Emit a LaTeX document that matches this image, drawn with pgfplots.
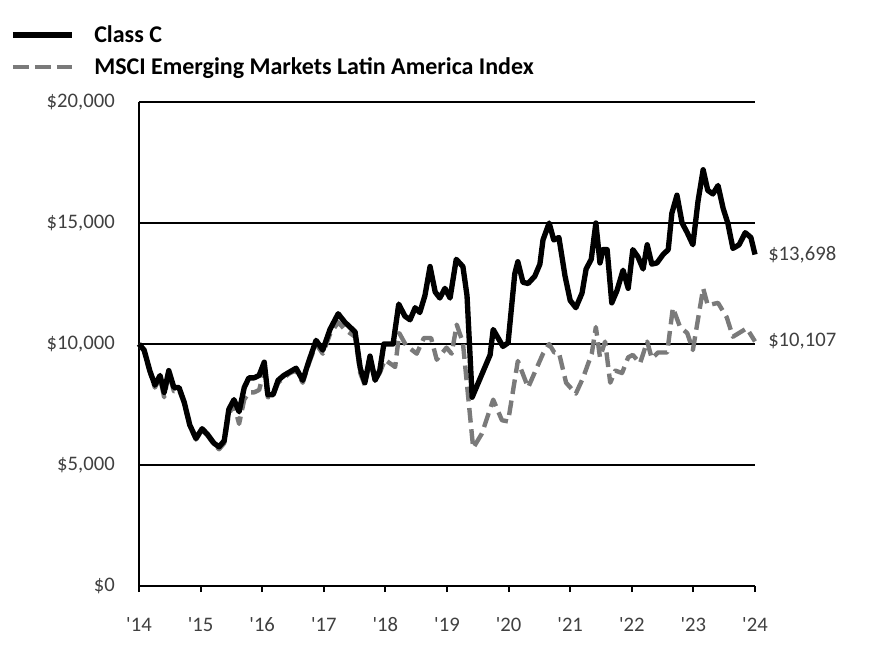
\documentclass[border=0pt]{standalone}
\usepackage{pgfplots}
\pgfplotsset{compat=1.18}
\usepackage{fontspec}
\setmainfont{Carlito}
\definecolor{idxgray}{RGB}{122,122,122}
\definecolor{txtgray}{RGB}{64,64,64}
\begin{document}
\begin{tikzpicture}
\useasboundingbox (-104.25pt,-64.5pt) rectangle (552.75pt,439.5pt);
\begin{axis}[
  scale only axis, width=462pt, height=363pt,
  xmin=0, xmax=120, ymin=0, ymax=20000,
  clip=false,
  scaled y ticks=false,
  axis x line*=bottom, axis y line*=left,
  axis line style={black, line width=1.8pt, -},
  ymajorgrids, grid style={black, line width=1.5pt},
  xtick={0,12,...,120},
  xticklabels={\textquotesingle14,\textquotesingle15,\textquotesingle16,\textquotesingle17,\textquotesingle18,\textquotesingle19,\textquotesingle20,\textquotesingle21,\textquotesingle22,\textquotesingle23,\textquotesingle24},
  ytick={0,5000,10000,15000,20000},
  yticklabels={{\$0},{\$5,000},{\$10,000},{\$15,000},{\$20,000}},
  tick align=outside,
  xtick style={black, line width=1.5pt},
  ytick style={draw=none},
  major tick length=4.5pt,
  ticklabel style={font=\fontsize{15.5}{18}\selectfont, text=txtgray},
  yticklabel style={inner sep=0pt, xshift=-13.5pt},
  xticklabel style={inner sep=0pt, yshift=-19pt},
  legend cell align=left,
  legend style={at={(-0.2094,1.164)}, anchor=north west, draw=none, fill=none,
    inner sep=0pt, row sep=6pt,
    font=\fontsize{18}{21}\selectfont\bfseries,
    nodes={inner sep=2pt}},
  legend image code/.code={\draw[#1] (0pt,0pt) -- (44pt,0pt);},
  /tikz/every even column/.append style={column sep=0pt},
  every axis plot/.append style={line join=round},
]
\addlegendimage{black, line width=4pt}
\addlegendentry{\hspace{13pt}Class C}
\addlegendimage{idxgray, line width=3.4pt, dash pattern=on 12pt off 4.5pt}
\addlegendentry{\hspace{13pt}MSCI Emerging Markets Latin America Index}

\addplot[idxgray, line width=3.3pt, dash pattern=on 11pt off 5pt, forget plot] coordinates {
(0,10000)(1,9700)(2.1,8850)(3.1,8200)(4.1,8600)(4.9,7800)(5.8,8800)(6.8,8050)(7.8,8100)(8.8,7550)
(9.9,6600)(11.1,6050)(12.3,6450)(13.4,6200)(14.6,5850)(15.6,5650)(16.6,5900)(17.5,7100)(18.5,7500)(19.5,6700)
(20.5,7700)(21.4,8000)(22.4,8000)(23.4,8100)(24.4,8900)(25.1,7800)(26.1,7850)(27.1,8400)(28.2,8600)(29.4,8800)
(30.6,8900)(31.9,8400)(33.1,9200)(34.5,10000)(35.8,9600)(37.2,10400)(38.8,10900)(40.1,10600)(42.1,10300)(43.1,8800)
(44.0,8300)(45.0,9300)(46.0,8500)(46.9,8800)(47.9,9350)(49.9,9050)(50.7,10450)(52.0,9950)(54.1,9600)(55.5,10250)
(56.9,10250)(58.0,9350)(59.9,9850)(60.9,9600)(61.9,10800)(63.1,10050)(65.1,5700)(66.8,6300)(69.0,7700)(70.7,6850)
(71.9,6800)(73.8,9300)(75.8,8200)(78.7,9600)(79.9,10000)(80.9,9650)(81.8,9650)(83.2,8400)(85.1,7950)(86.5,8600)
(88.2,9600)(89.0,10700)(89.8,9450)(90.8,10100)(91.8,8400)(92.8,8900)(94.1,8800)(95.3,9450)(96.2,9550)(97.6,9200)
(99.0,10100)(99.9,9400)(101.1,9650)(102.9,9650)(104.0,11500)(105.4,10700)(106.8,10450)(107.9,9750)(109.9,12300)(110.8,11600)
(112.8,11700)(114.5,11100)(115.7,10300)(118.4,10650)(120,10107)
};
\addplot[black, line width=4pt, forget plot] coordinates {
(0,10000)(1,9750)(2.1,8900)(3.1,8300)(4.1,8700)(4.9,8000)(5.8,8900)(6.8,8200)(7.8,8200)(8.8,7600)
(9.9,6650)(11.1,6100)(12.3,6500)(13.4,6250)(14.6,5900)(15.6,5750)(16.6,6000)(17.5,7300)(18.5,7700)(19.5,7200)
(20.5,8200)(21.4,8600)(22.4,8600)(23.4,8700)(24.4,9250)(25.1,7900)(26.1,7900)(27.1,8500)(28.2,8700)(29.4,8850)
(30.6,9000)(31.9,8500)(33.1,9300)(34.5,10150)(35.8,9750)(37.2,10600)(38.8,11250)(40.1,10900)(42.1,10500)(43.1,9000)
(44.0,8400)(45.0,9500)(46.0,8500)(46.9,8900)(47.7,10000)(49.5,10000)(50.6,11650)(51.8,11150)(52.8,11000)(53.8,11500)
(54.7,11300)(55.7,12000)(56.7,13200)(57.7,12150)(58.6,11900)(59.6,12300)(60.6,11900)(61.8,13500)(63.1,13200)(63.9,12000)
(64.9,7800)(68.4,9550)(69.0,10600)(70.9,9900)(71.9,10050)(73.2,12900)(73.8,13400)(74.8,12550)(75.8,12500)(77.1,12800)
(78.1,13300)(78.7,14300)(79.9,15000)(80.8,14300)(81.8,14400)(83.0,12800)(84.0,11800)(85.1,11500)(86.3,12100)(87.1,13100)
(88.1,13500)(89.0,15000)(89.8,13350)(90.4,13900)(91.2,13900)(92.1,11700)(93.1,12200)(94.3,13050)(95.3,12300)(96.2,13900)
(97.2,13600)(98.2,13100)(99.0,14100)(99.9,13300)(100.9,13350)(102.1,13700)(103.1,13900)(103.8,15400)(104.8,16150)(105.8,15000)
(106.8,14600)(107.9,14100)(108.9,15900)(109.9,17200)(110.8,16350)(111.8,16200)(112.8,16550)(113.8,15600)(114.7,15000)(115.7,13950)
(116.9,14100)(118.1,14600)(119.2,14400)(120,13698)
};
\node[anchor=west, inner sep=0pt, xshift=9.75pt, text=txtgray, font=\fontsize{15.5}{18}\selectfont] at (axis cs:120,13698) {\$13,698};
\node[anchor=west, inner sep=0pt, xshift=9.75pt, text=txtgray, font=\fontsize{15.5}{18}\selectfont] at (axis cs:120,10107) {\$10,107};
\end{axis}
\end{tikzpicture}
\end{document}
